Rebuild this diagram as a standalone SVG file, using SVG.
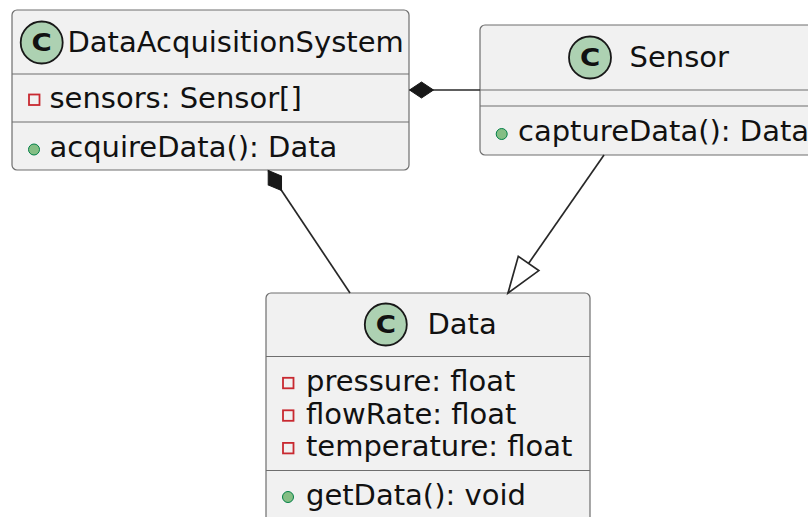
<svg xmlns="http://www.w3.org/2000/svg" width="808" height="517" viewBox="0 0 808 517">
<style>
.box{fill:#F1F1F1;stroke:#6E6E6E;stroke-width:1.2}
.sep{stroke:#6E6E6E;stroke-width:1.2}
.circ{fill:#ADD1B2;stroke:#181818;stroke-width:1.8}
.cl{font-family:"DejaVu Sans",sans-serif;font-weight:bold;font-size:24px;fill:#111;text-anchor:middle}
.t{font-family:"DejaVu Sans",sans-serif;font-size:29px;fill:#111}
.priv{fill:none;stroke:#C82930;stroke-width:1.8}
.pub{fill:#84BE84;stroke:#038048;stroke-width:1}
.link{fill:none;stroke:#282828;stroke-width:1.7}
</style>
<defs>
<marker id="diamond" markerUnits="userSpaceOnUse" orient="auto" refX="0" refY="0" markerWidth="30" markerHeight="20" viewBox="-2 -10 30 20" overflow="visible">
<path d="M0,0 L12,-8 L24,0 L12,8 Z" fill="#181818" stroke="#181818" stroke-width="1"/>
</marker>
<marker id="tri" markerUnits="userSpaceOnUse" orient="auto" refX="0" refY="0" markerWidth="40" markerHeight="30" viewBox="-38 -15 40 30" overflow="visible">
<path d="M0,0 L-36,-12.5 L-36,12.5 Z" fill="#FFFFFF" stroke="#282828" stroke-width="1.7"/>
</marker>
</defs>
<g id="DataAcquisitionSystem">
<rect class="box" x="12" y="10" width="397" height="160" rx="5"/>
<line class="sep" x1="12" y1="74" x2="409" y2="74"/>
<line class="sep" x1="12" y1="122" x2="409" y2="122"/>
<circle class="circ" cx="41.7" cy="42.5" r="21"/>
<text class="cl" transform="translate(41.7,51) scale(1.15,1)" x="0" y="0">C</text>
<text class="t" x="67.5" y="52">DataAcquisitionSystem</text>
<rect class="priv" x="29" y="94.5" width="10.5" height="10.5"/>
<text class="t" x="49.5" y="108">sensors: Sensor[]</text>
<circle class="pub" cx="34" cy="149.5" r="5.5"/>
<text class="t" x="49.5" y="156.5">acquireData(): Data</text>
</g>
<g id="Sensor">
<rect class="box" x="480" y="25" width="345" height="130" rx="5"/>
<line class="sep" x1="480" y1="90" x2="808" y2="90"/>
<line class="sep" x1="480" y1="106" x2="808" y2="106"/>
<circle class="circ" cx="590" cy="57.5" r="21"/>
<text class="cl" transform="translate(590,66) scale(1.15,1)" x="0" y="0">C</text>
<text class="t" x="629.5" y="67">Sensor</text>
<circle class="pub" cx="501.7" cy="134" r="5.5"/>
<text class="t" x="518" y="140.5">captureData(): Data</text>
</g>
<g id="Data">
<rect class="box" x="266" y="293" width="324" height="240" rx="5"/>
<line class="sep" x1="266" y1="356.5" x2="590" y2="356.5"/>
<line class="sep" x1="266" y1="470.5" x2="590" y2="470.5"/>
<circle class="circ" cx="385.8" cy="324.5" r="21"/>
<text class="cl" transform="translate(385.8,333) scale(1.15,1)" x="0" y="0">C</text>
<text class="t" x="427.5" y="334">Data</text>
<rect class="priv" x="283" y="377.8" width="10.5" height="10.5"/>
<text class="t" x="306" y="391">pressure: float</text>
<rect class="priv" x="283" y="410.3" width="10.5" height="10.5"/>
<text class="t" x="306" y="423.5">flowRate: float</text>
<rect class="priv" x="283" y="442.9" width="10.5" height="10.5"/>
<text class="t" x="306" y="456">temperature: float</text>
<circle class="pub" cx="288" cy="497" r="5.5"/>
<text class="t" x="306" y="504.5">getData(): void</text>
</g>
<g id="connectors">
<path class="link" d="M409.5,90 L480,90" marker-start="url(#diamond)"/>
<path class="link" d="M268.2,170.5 L350,293" marker-start="url(#diamond)"/>
<path class="link" d="M604,155 L508,293" marker-end="url(#tri)"/>
</g>
</svg>
